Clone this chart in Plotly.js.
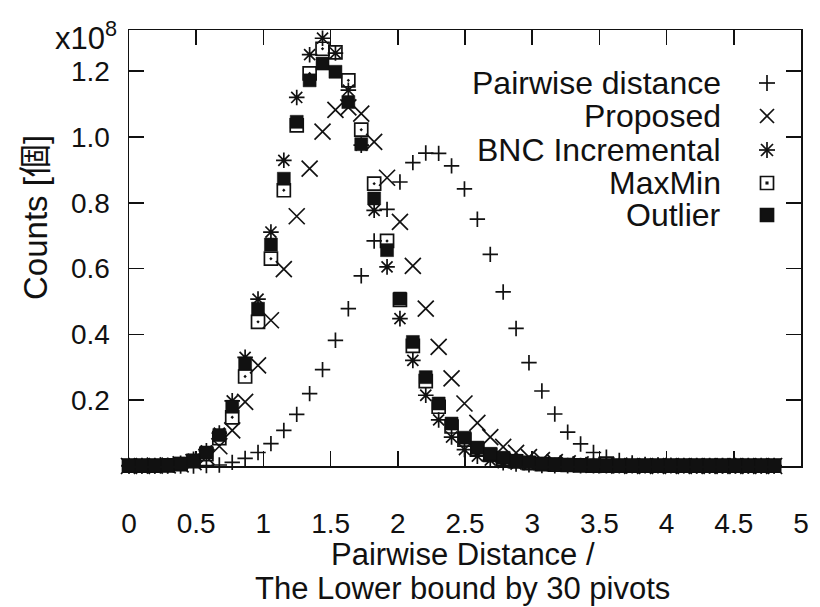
<!DOCTYPE html>
<html>
<head>
<meta charset="utf-8">
<script src="https://cdn.plot.ly/plotly-3.0.1.min.js"></script>
<style>
  html, body { margin: 0; padding: 0; background: #ffffff; }
  #chart { width: 820px; height: 607px; }
</style>
</head>
<body>
<div id="chart"></div>
<script>
// Normalised distance bins (pairwise distance / lower bound by 30 pivots)
const ratioBins = [0, 0.096, 0.192, 0.288, 0.384, 0.48, 0.576, 0.672, 0.768, 0.864,
  0.96, 1.056, 1.152, 1.248, 1.344, 1.44, 1.536, 1.632, 1.728, 1.824,
  1.92, 2.016, 2.112, 2.208, 2.304, 2.4, 2.496, 2.592, 2.688, 2.784,
  2.88, 2.976, 3.072, 3.168, 3.264, 3.36, 3.456, 3.552, 3.648, 3.744,
  3.84, 3.936, 4.032, 4.128, 4.224, 4.32, 4.416, 4.512, 4.608, 4.704, 4.8];

// Counts per bin, in units of 1e8
const pairwiseCounts = [0, 0, 0, 0, 0, 0, 0.001, 0.003, 0.011, 0.023,
  0.041, 0.068, 0.108, 0.157, 0.22, 0.293, 0.382, 0.478, 0.578, 0.684,
  0.78, 0.863, 0.922, 0.951, 0.95, 0.912, 0.842, 0.75, 0.643, 0.529,
  0.418, 0.314, 0.228, 0.158, 0.103, 0.067, 0.041, 0.027, 0.017, 0.009,
  0.005, 0.003, 0.002, 0.001, 0, 0, 0, 0, 0, 0, 0];

const proposedCounts = [0, 0, 0.001, 0.002, 0.005, 0.012, 0.028, 0.06, 0.108, 0.195,
  0.306, 0.443, 0.598, 0.759, 0.904, 1.016, 1.082, 1.09, 1.071, 0.985,
  0.876, 0.742, 0.608, 0.478, 0.362, 0.266, 0.19, 0.131, 0.088, 0.058,
  0.04, 0.027, 0.018, 0.012, 0.008, 0.005, 0.003, 0.002, 0.001, 0,
  0, 0, 0, 0, 0, 0, 0, 0, 0, 0, 0];

const bncCounts = [0.001, 0.001, 0.001, 0.002, 0.008, 0.02, 0.046, 0.1, 0.198, 0.33,
  0.507, 0.711, 0.929, 1.12, 1.25, 1.3, 1.255, 1.142, 0.975, 0.777,
  0.605, 0.448, 0.321, 0.215, 0.14, 0.088, 0.05, 0.03, 0.018, 0.01,
  0.006, 0.004, 0.002, 0.001, 0.001, 0.001, 0.001, 0.001, 0.001, 0.001,
  0.001, 0.001, 0.001, 0.001, 0.001, 0.001, 0.001, 0.001, 0.001, 0.001, 0.001];

const maxMinCounts = [0.001, 0.001, 0.001, 0.002, 0.006, 0.015, 0.036, 0.085, 0.148, 0.272,
  0.438, 0.63, 0.838, 1.035, 1.193, 1.268, 1.257, 1.172, 1.022, 0.858,
  0.684, 0.505, 0.365, 0.258, 0.18, 0.12, 0.08, 0.052, 0.034, 0.022,
  0.014, 0.009, 0.006, 0.004, 0.003, 0.002, 0.001, 0.001, 0.001, 0.001,
  0.001, 0.001, 0.001, 0.001, 0.001, 0.001, 0.001, 0.001, 0.001, 0.001, 0.001];

const outlierCounts = [0.001, 0.001, 0.001, 0.002, 0.007, 0.017, 0.041, 0.094, 0.18, 0.311,
  0.478, 0.673, 0.873, 1.046, 1.172, 1.223, 1.198, 1.106, 0.978, 0.813,
  0.656, 0.509, 0.377, 0.27, 0.19, 0.129, 0.086, 0.056, 0.037, 0.025,
  0.016, 0.011, 0.007, 0.005, 0.003, 0.002, 0.001, 0.001, 0.001, 0.001,
  0.001, 0.001, 0.001, 0.001, 0.001, 0.001, 0.001, 0.001, 0.001, 0.001, 0.001];

const seriesNames = ['Pairwise distance', 'Proposed', 'BNC Incremental', 'MaxMin', 'Outlier'];

const xTickVals = [0, 0.5, 1, 1.5, 2, 2.5, 3, 3.5, 4, 4.5, 5];
const xTickText = ['0', '0.5', '1', '1.5', '2', '2.5', '3', '3.5', '4', '4.5', '5'];
const yTickVals = [0.2, 0.4, 0.6, 0.8, 1.0, 1.2];
const yTickText = ['0.2', '0.4', '0.6', '0.8', '1.0', '1.2'];

const INK = '#111111';
const FONT = 'Liberation Sans, Arial, Helvetica, Noto Sans CJK JP, sans-serif';

// open symbols take their stroke colour from marker.color
function series(name, y, symbol, size, filled) {
  return {
    type: 'scatter', mode: 'markers', name: name,
    x: ratioBins, y: y, cliponaxis: false, showlegend: false,
    marker: {
      symbol: symbol, size: size, color: INK,
      line: { color: INK, width: filled ? 0.5 : 1.7 }
    }
  };
}

const traces = [
  series(seriesNames[0], pairwiseCounts, 'cross-thin-open', 11, false),
  series(seriesNames[1], proposedCounts, 'x-thin-open', 16, false),
  series(seriesNames[2], bncCounts, 'asterisk-open', 13, false),
  series(seriesNames[3], maxMinCounts, 'square-open-dot', 13, false),
  series(seriesNames[4], outlierCounts, 'square', 13, true)
];

// plot frame in pixels, used to place the key and labels
const L = 129, R = 801, T = 30, B = 466;
const px = v => (v - L) / (R - L);
const py = v => (B - v) / (B - T);

// key: text right-aligned, symbol drawn to its right
const keyRows = [83, 116, 150, 183, 215];
const keyTextRight = 723, keyMarkX = 767;
const annotations = seriesNames.map((n, i) => ({
  xref: 'paper', yref: 'paper', x: px(keyTextRight), y: py(keyRows[i]),
  xanchor: 'right', yanchor: 'middle', showarrow: false, text: n,
  font: { family: FONT, size: 32, color: INK }
}));

annotations.push({
  xref: 'paper', yref: 'paper', x: px(53), y: py(36), xanchor: 'left', yanchor: 'middle',
  showarrow: false, text: 'x10<sup>8</sup>', font: { family: FONT, size: 31, color: INK }
});
annotations.push({
  xref: 'paper', yref: 'paper', x: px(35), y: py(218), xanchor: 'center', yanchor: 'middle',
  textangle: -90, showarrow: false, text: 'Counts [個]', font: { family: FONT, size: 33, color: INK }
});
annotations.push({
  xref: 'paper', yref: 'paper', x: px(463), y: py(554), xanchor: 'center', yanchor: 'middle',
  showarrow: false, text: 'Pairwise Distance /', font: { family: FONT, size: 31, color: INK }
});
annotations.push({
  xref: 'paper', yref: 'paper', x: px(462), y: py(588), xanchor: 'center', yanchor: 'middle',
  showarrow: false, text: 'The Lower bound by 30 pivots', font: { family: FONT, size: 31, color: INK }
});

const shapes = [];
function seg(x0, y0, x1, y1) {
  shapes.push({ type: 'line', xref: 'paper', yref: 'paper',
    x0: px(x0), y0: py(y0), x1: px(x1), y1: py(y1), line: { color: INK, width: 1.7 } });
}
function box(cx, cy, h, fill) {
  shapes.push({ type: 'rect', xref: 'paper', yref: 'paper',
    x0: px(cx - h), y0: py(cy + h), x1: px(cx + h), y1: py(cy - h),
    fillcolor: fill ? INK : 'rgba(0,0,0,0)', line: { color: INK, width: 1.7 } });
}
const a = 8, d = 7;
// plus
seg(keyMarkX - a, keyRows[0], keyMarkX + a, keyRows[0]);
seg(keyMarkX, keyRows[0] - a, keyMarkX, keyRows[0] + a);
// cross
seg(keyMarkX - d, keyRows[1] - d, keyMarkX + d, keyRows[1] + d);
seg(keyMarkX - d, keyRows[1] + d, keyMarkX + d, keyRows[1] - d);
// asterisk
seg(keyMarkX - a, keyRows[2], keyMarkX + a, keyRows[2]);
seg(keyMarkX, keyRows[2] - a, keyMarkX, keyRows[2] + a);
seg(keyMarkX - 6, keyRows[2] - 6, keyMarkX + 6, keyRows[2] + 6);
seg(keyMarkX - 6, keyRows[2] + 6, keyMarkX + 6, keyRows[2] - 6);
// open square with centre dot
box(keyMarkX, keyRows[3], 6.5, false);
box(keyMarkX, keyRows[3], 0.7, true);
// filled square
box(keyMarkX, keyRows[4], 6.5, true);

const axisCommon = {
  showline: true, linecolor: INK, linewidth: 1.5, mirror: 'ticks',
  ticks: 'inside', ticklen: 15, tickwidth: 1.5, tickcolor: INK,
  showgrid: false, zeroline: false,
  tickfont: { family: FONT, size: 28, color: INK }
};

const layout = {
  width: 820, height: 607,
  margin: { l: L, r: 820 - R, t: T, b: 607 - B },
  paper_bgcolor: '#ffffff', plot_bgcolor: '#ffffff',
  showlegend: false,
  xaxis: Object.assign({}, axisCommon, {
    range: [0, 5], tickmode: 'array', tickvals: xTickVals, ticktext: xTickText,
    ticklabelstandoff: 32
  }),
  yaxis: Object.assign({}, axisCommon, {
    range: [0, 1.325], tickmode: 'array', tickvals: yTickVals, ticktext: yTickText,
    ticklabelstandoff: 12
  }),
  annotations: annotations,
  shapes: shapes
};

Plotly.newPlot('chart', traces, layout, { displayModeBar: false, staticPlot: true });
</script>
</body>
</html>
